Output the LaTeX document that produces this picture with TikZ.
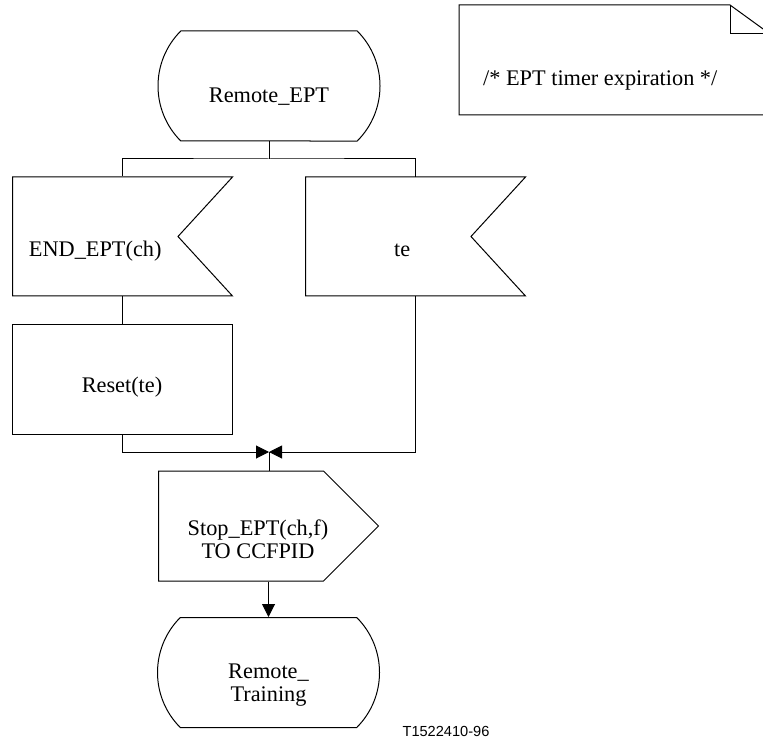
\documentclass[tikz,border=0pt]{standalone}
\usepackage{fontspec}
\setmainfont{Liberation Serif}
\newfontfamily\tagfont{Liberation Sans}
\usetikzlibrary{positioning,arrows.meta,shapes.symbols,shapes.misc}
\newcommand{\nudge}[2]{\hspace*{#1}#2\hspace*{-#1}}

\begin{document}
\begin{tikzpicture}[
  x=0.5pt, y=-0.5pt,
  font=\fontsize{11.15}{11.5}\selectfont,
  line width=0.5pt,
  sdlstate/.style={rounded rectangle, rounded rectangle arc length=90, draw,
                   minimum width=111pt, minimum height=55pt, inner sep=0pt, align=center},
  sdlin/.style={signal, signal from=east, signal to=nowhere, signal pointer angle=95, draw,
                minimum width=110pt, minimum height=59.5pt, inner sep=0pt, align=center,
                text height=20.4pt, text depth=0pt},
  sdlout/.style={signal, signal to=east, signal from=nowhere, signal pointer angle=90, draw,
                 minimum width=110pt, minimum height=55pt, inner sep=0pt, align=center,
                 text height=32.9pt, text depth=0pt},
  sdltask/.style={rectangle, draw, minimum width=110pt, minimum height=55pt, inner sep=0pt,
                  align=center, text height=13.4pt, text depth=0pt},
  flow/.style={-{Triangle[length=6.5pt,width=6.5pt]}}
]
\clip (0,0) rectangle (763,742);

% states
\node[sdlstate, text height=16.4pt, text depth=0pt] (idle) at (269,86) {Remote\_EPT};
\node[sdlstate, text height=28.9pt, text depth=0pt] (train) at (268.5,672.5) {Remote\_\\Training};

% inputs
\node[sdlin, anchor=west] (endin) at (12,236.5) {END\_EPT(ch)};
\node[sdlin, anchor=west] (tein) at (305,236.5) {\nudge{7pt}{te}};

% task and output
\node[sdltask] (reset) at (122,379) {Reset(te)};
\node[sdlout, anchor=west] (stop) at (158,526) {\nudge{8.5pt}{Stop\_EPT(ch,f)}\\\nudge{8.5pt}{TO CCFPID}};

% comment
\draw (459,5) -- (730,5) -- (770,34) -- (770,115) -- (459,115) -- cycle;
\draw (730,5) -- (730,34) -- (770,34);
\node[anchor=west] (note) at (476,80) {/* EPT timer expiration */};

\node[font=\tagfont\fontsize{7.3}{9}\selectfont] (fig) at (446,731) {T1522410-96};

% connectors
\coordinate (fork) at (269,159);
\coordinate (merge) at (269,452);
\coordinate (tetop) at (415.5,177);
\coordinate (tebot) at (415.5,296);
\draw (idle.south) -- (fork);
\draw (reset.north |- fork) -- (fork) -| (tetop);
\draw (reset.north |- fork) -- (reset.north |- endin.north);
\draw (reset.north |- endin.south) -- (reset.north);
\draw[flow] (reset.south) |- (merge);
\draw[flow] (tebot) |- (merge);
\draw (merge) -- (merge |- stop.north);
\draw[flow] (train.north |- stop.south) -- (train.north);
\end{tikzpicture}
\end{document}
